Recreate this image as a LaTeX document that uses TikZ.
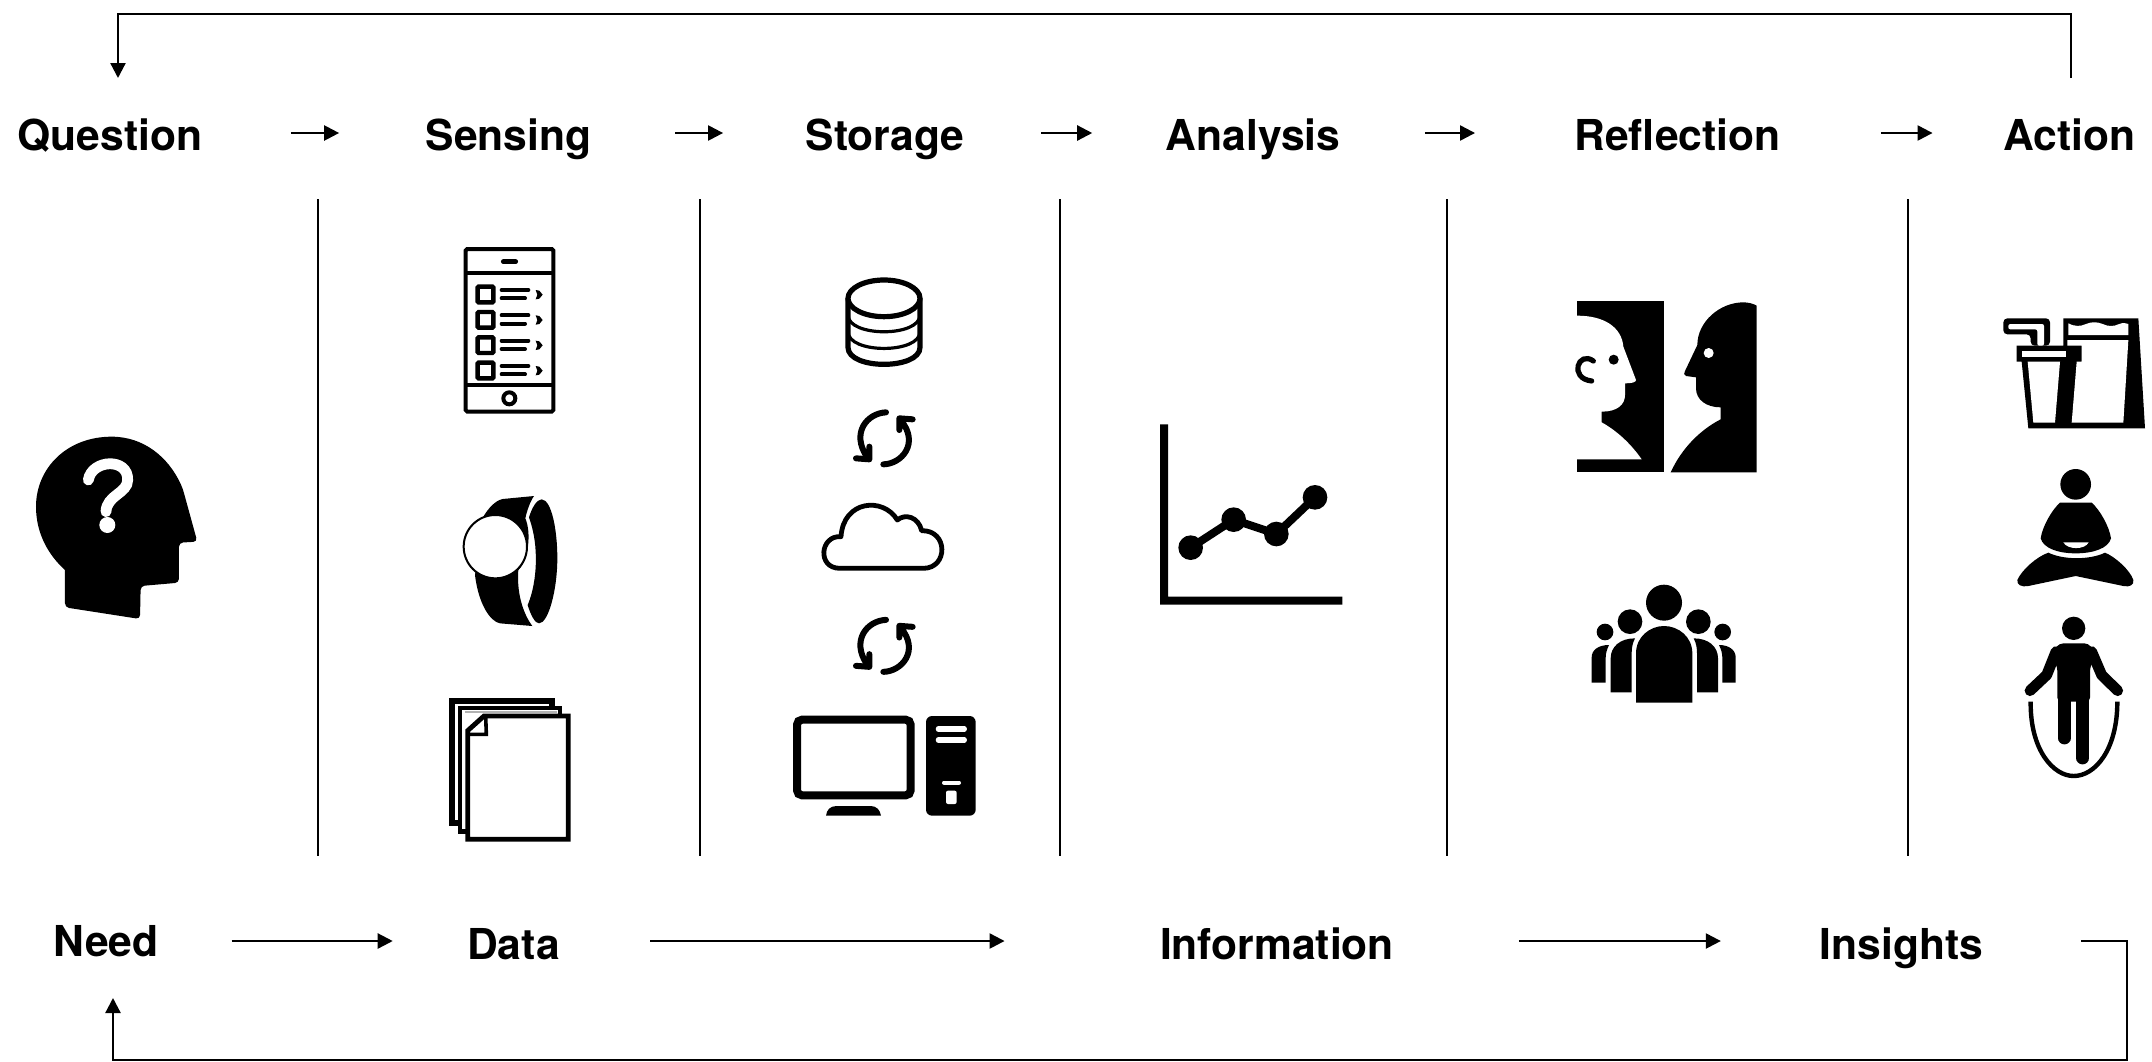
\documentclass[tikz,border=0pt]{standalone}
\usepackage{fontspec}
\setmainfont{TeX Gyre Heros}
\usetikzlibrary{arrows.meta}
\tikzset{
  x=0.5pt,y=-0.5pt,
  lab/.style={inner sep=0pt,outer sep=0pt,text depth=1pt,text height=#1pt,font=\fontsize{21.3}{24}\selectfont\bfseries},
  conn/.style={line width=1.15pt,-{Triangle[length=7.5pt,width=7.5pt]}},
  sep/.style={line width=1.25pt},
  gap/.style 2 args={shorten <=#1*0.5pt,shorten >=#2*0.5pt},
  ico/.style={line width=#1*0.2pt},
  zoomed/.style={shift={#1},scale=0.33333},
}
\newcommand{\syncicon}{%
  \draw[ico=15,line cap=round,line join=round]
    (318,457) .. controls (260,460) and (212,520) .. (262,592)
    (228,595) -- (268,598) -- (268,560)
    (310,613) .. controls (365,612) and (420,550) .. (362,480)
    (398,478) -- (358,475) -- (358,510);
}
\begin{document}
\begin{tikzpicture}
\useasboundingbox (0,0) rectangle (2152,1061);
% labels
\node[lab=18] (question) at (110,133) {Question};
\node[lab=18] (sensing) at (508.5,133) {Sensing};
\node[lab=18] (storage) at (885,133) {Storage};
\node[lab=18] (analysis) at (1253,133) {Analysis};
\node[lab=18] (reflection) at (1677.5,133) {Reflection};
\node[lab=18] (action) at (2069.5,133) {Action};
\node[lab=16] (need) at (106,941) {Need};
\node[lab=19] (data) at (513.5,941) {Data};
\node[lab=19] (information) at (1277,941) {Information};
\node[lab=19] (insights) at (1901.5,941) {Insights};
% horizontal arrows
\draw[conn,gap={88.5}{86.5}] (question.east) -- (sensing.west);
\draw[conn,gap={84}{82.5}] (sensing.east) -- (storage.west);
\draw[conn,gap={77}{73.5}] (storage.east) -- (analysis.west);
\draw[conn,gap={84.5}{99.5}] (analysis.east) -- (reflection.west);
\draw[conn,gap={100.5}{71}] (reflection.east) -- (action.west);
\draw[conn,gap={73}{74.5}] (need.east) -- (data.west);
\draw[conn,gap={90.5}{155.5}] (data.east) -- (information.west);
\draw[conn,gap={125}{99}] (information.east) -- (insights.west);
% feedback loops
\coordinate (tr) at (2071,14);
\coordinate (tl) at (118,14);
\draw[conn,gap={36}{36}] (action.north -| tr) -- (tr) -- (tl) -- (question.north -| tl);
\coordinate (br1) at (2127,941);
\coordinate (br2) at (2127,1060);
\coordinate (bl) at (113,1060);
\draw[conn,gap={98}{40}] (insights.east) -- (br1) -- (br2) -- (bl) -- (need.south -| bl);
% separators
\foreach \n/\xx in {a/318,b/700,c/1060,d/1447,e/1908}{
  \coordinate (sep\n t) at (\xx,199);
  \coordinate (sep\n b) at (\xx,856);
  \draw[sep] (sep\n t) -- (sep\n b);
}
% head with question mark
\begin{scope}[zoomed={(0,400)}]
  \fill[rounded corners=2pt] (195,510) -- (195,622) -- (420,657) -- (422,558) -- (537,548) -- (537,428) -- (592,425) -- (548,265)
    [sharp corners] .. controls (505,170) and (430,110) .. (335,110)
    .. controls (200,110) and (108,205) .. (108,320)
    .. controls (108,400) and (145,465) .. (195,510) -- cycle;
  \draw[white,ico=27,line cap=round] (265,240) .. controls (275,178) and (385,172) .. (383,240) .. controls (383,280) and (320,285) .. (318,335);
  \fill[white] (322,375) circle [radius=24];
\end{scope}
% phone
\begin{scope}[zoomed={(420,230)}]
  \draw[ico=10,rounded corners=0.8pt] (137,57) rectangle (400,545);
  \draw[ico=10] (137,130) -- (400,130) (137,465) -- (400,465);
  \draw[ico=12,line cap=round] (250,95) -- (287,95);
  \draw[ico=10] (268,505) circle [radius=18];
  \foreach \yy in {0,76,152,228}{
    \draw[ico=11,rounded corners=0.5pt] (173,170+\yy) rectangle (220,217+\yy);
    \draw[ico=10,line cap=round] (245,180+\yy) -- (325,180+\yy) (245,205+\yy) -- (315,205+\yy);
    \fill (347,180+\yy) -- (358,182+\yy) -- (368,194+\yy) -- (358,206+\yy) -- (347,208+\yy) -- (352,194+\yy) -- cycle;
  }
\end{scope}
% watch and documents
\begin{scope}[zoomed={(420,480)}]
  \fill (342,48) -- (248,57) .. controls (225,62) and (205,85) .. (190,110) -- (165,285)
    .. controls (175,370) and (210,425) .. (240,430) -- (337,438)
    .. controls (305,395) and (290,330) .. (295,270) .. controls (325,240) and (335,160) .. (316,115) .. controls (320,95) and (330,65) .. (342,48) -- cycle;
  \draw[fill=white,ico=5] (226,200) circle [radius=95];
  \fill (365,58) .. controls (395,60) and (412,150) .. (412,235) .. controls (412,330) and (385,430) .. (357,430)
    .. controls (345,430) and (332,405) .. (323,375) .. controls (342,330) and (350,270) .. (347,215)
    .. controls (345,170) and (335,135) .. (327,112) .. controls (335,85) and (350,58) .. (365,58) -- cycle;
  % documents
  \draw[fill=white,ico=15] (96,662) rectangle (395,1028);
  \draw[fill=white,ico=12] (120,684) rectangle (420,1054);
  \fill[white!70!black] (135,692) rectangle (410,700);
  \draw[fill=white,ico=12,line join=miter] (143,752) -- (192,708) -- (445,708) -- (445,1078) -- (143,1078) -- cycle;
  \draw[ico=9] (197,708) -- (199,763) -- (143,763);
\end{scope}
% database, sync, cloud
\begin{scope}[zoomed={(780,260)}]
  \draw[ico=13] (204,115) -- (204,262) .. controls (204,330) and (420,330) .. (420,262) -- (420,115);
  \draw[ico=8] (204,165) .. controls (204,232) and (420,232) .. (420,165);
  \draw[ico=8] (204,215) .. controls (204,282) and (420,282) .. (420,215);
  \draw[fill=white,ico=13] (312,115) ellipse [x radius=108,y radius=55];
  \syncicon
  \draw[ico=12,line join=round] (180,925) -- (430,925) .. controls (505,925) and (505,810) .. (425,812)
    .. controls (415,770) and (375,760) .. (352,780)
    .. controls (310,710) and (190,720) .. (183,830)
    .. controls (120,825) and (110,925) .. (180,925) -- cycle;
\end{scope}
\begin{scope}[zoomed={(780,467.5)}]
  \syncicon
\end{scope}
% computer
\begin{scope}[zoomed={(780,590)}]
  \draw[ico=20,rounded corners=2.5pt] (51,389) rectangle (392,616);
  \fill (138,677) .. controls (140,660) and (150,648) .. (170,648) -- (272,648) .. controls (290,648) and (300,660) .. (303,677) -- cycle;
  \fill[rounded corners=3pt] (438,378) rectangle (587,677);
  \draw[white,ico=13,line cap=round] (475,417) -- (553,417) (475,450) -- (553,450);
  \draw[white,ico=10,line cap=round] (492,578) -- (537,578);
  \fill[white,rounded corners=1pt] (498,602) rectangle (530,642);
\end{scope}
% chart
\begin{scope}[zoomed={(1140,410)}]
  \fill (60,43) -- (84,43) -- (84,560) -- (607,560) -- (607,584) -- (60,584) -- cycle;
  \draw[ico=20] (152,413) -- (281,329) -- (409,372) -- (525,262);
  \foreach \px/\py in {152/413,281/329,409/372,525/262}
    \fill (\px,\py) circle [radius=37];
\end{scope}
% faces
\begin{scope}[zoomed={(1560,285)}]
  \fill (52,48) rectangle (312,562);
  \fill[white] (46,92) -- (52,92) .. controls (130,92) and (185,125) .. (190,185) -- (228,285) .. controls (228,292) and (215,295) .. (195,295)
    -- (195,330) .. controls (195,360) and (170,380) .. (125,380) -- (125,412)
    .. controls (175,440) and (215,480) .. (245,523) -- (46,523) -- cycle;
  \draw[ico=13,line cap=round] (100,228) .. controls (55,195) and (25,280) .. (95,288);
  \fill (161,224) circle [radius=15];
  \fill (332,562) .. controls (365,490) and (420,435) .. (482,403) -- (482,367)
    .. controls (440,367) and (408,345) .. (408,310) -- (408,277) -- (378,273) .. controls (370,270) and (372,265) .. (375,258) -- (412,180)
    .. controls (412,110) and (480,52) .. (550,52) .. controls (565,52) and (580,56) .. (590,62) -- (590,562) -- cycle;
  \fill[white] (446,204) circle [radius=15];
\end{scope}
% people
\begin{scope}[zoomed={(1570,570)}]
  \fill (282,98) circle [radius=54];
  \fill (198,398) -- (198,250) .. controls (198,200) and (240,168) .. (282,168) .. controls (325,168) and (367,200) .. (367,250) -- (367,398) -- cycle;
  \fill (180,155) circle [radius=37] (385,155) circle [radius=37];
  \fill (122,367) -- (122,265) .. controls (122,230) and (150,205) .. (195,205) .. controls (187,220) and (185,235) .. (185,250) -- (185,367) -- cycle;
  \fill (444,367) -- (444,265) .. controls (444,230) and (416,205) .. (371,205) .. controls (379,220) and (381,235) .. (381,250) -- (381,367) -- cycle;
  \fill (105,186) circle [radius=25] (458,186) circle [radius=25];
  \fill (65,338) -- (65,262) .. controls (65,240) and (85,225) .. (117,225) .. controls (110,240) and (107,250) .. (107,265) -- (107,338) -- cycle;
  \fill (497,338) -- (497,262) .. controls (497,240) and (477,225) .. (447,225) .. controls (454,240) and (457,250) .. (457,265) -- (457,338) -- cycle;
\end{scope}
% drink and bag, meditating person
\begin{scope}[zoomed={(1980,300)}]
  \fill (250,55) -- (475,55) -- (495,385) -- (145,385) -- (125,185) -- (110,185) -- (110,137) -- (250,137) -- cycle;
  \fill[white] (265,70) .. controls (285,80) and (300,80) .. (318,72) .. controls (335,65) and (350,65) .. (368,72) .. controls (385,80) and (400,80) .. (418,72) .. controls (428,68) and (438,68) .. (445,72) -- (445,105) -- (265,105) -- cycle;
  \fill[white] (262,120) -- (445,120) -- (430,368) -- (275,368) -- (290,185) -- (305,185) -- (305,137) -- (262,137) -- cycle;
  \fill[white] (125,153) rectangle (258,170);
  \fill[white] (143,185) -- (240,185) -- (225,368) -- (160,368) -- cycle;
  \fill[rounded corners=2pt] (70,55) -- (210,55) -- (210,137) -- (152,137) -- (152,103) -- (70,103) -- cycle;
  \fill[white,rounded corners=1pt] (85,72) -- (192,72) -- (192,137) -- (172,137) -- (172,88) -- (85,88) -- cycle;
  \fill (287,553) circle [radius=46];
  \fill (240,608) -- (335,608) .. controls (360,630) and (388,680) .. (393,715)
    .. controls (385,745) and (340,760) .. (287,760) .. controls (235,760) and (190,745) .. (182,715)
    .. controls (187,680) and (215,630) .. (240,608) -- cycle;
  \fill[white] (250,727) -- (326,727) .. controls (315,750) and (262,750) .. (250,727) -- cycle;
  \fill (205,758) .. controls (250,780) and (330,780) .. (375,758) .. controls (405,770) and (450,810) .. (460,840)
    .. controls (462,855) and (450,862) .. (430,858) -- (287,828) -- (145,858)
    .. controls (125,862) and (110,855) .. (112,840) .. controls (125,810) and (170,770) .. (205,758) -- cycle;
\end{scope}
% person with skipping rope
\begin{scope}[zoomed={(1980,600)}]
  \fill (281,85) circle [radius=35];
  \draw[ico=27,line cap=round,line join=round] (150,272) -- (200,225) -- (228,155) (413,272) -- (365,225) -- (335,155);
  \fill[rounded corners=2pt] (210,165) -- (238,130) -- (325,130) -- (352,165) -- (330,200) -- (330,305) -- (232,305) -- (232,200) -- cycle;
  \draw[ico=32,line cap=round] (253,290) -- (253,414) (308,290) -- (308,474);
  \draw[ico=11] (152,305) .. controls (150,450) and (220,528) .. (281,528) .. controls (345,528) and (412,450) .. (412,305);
\end{scope}
\end{tikzpicture}
\end{document}
